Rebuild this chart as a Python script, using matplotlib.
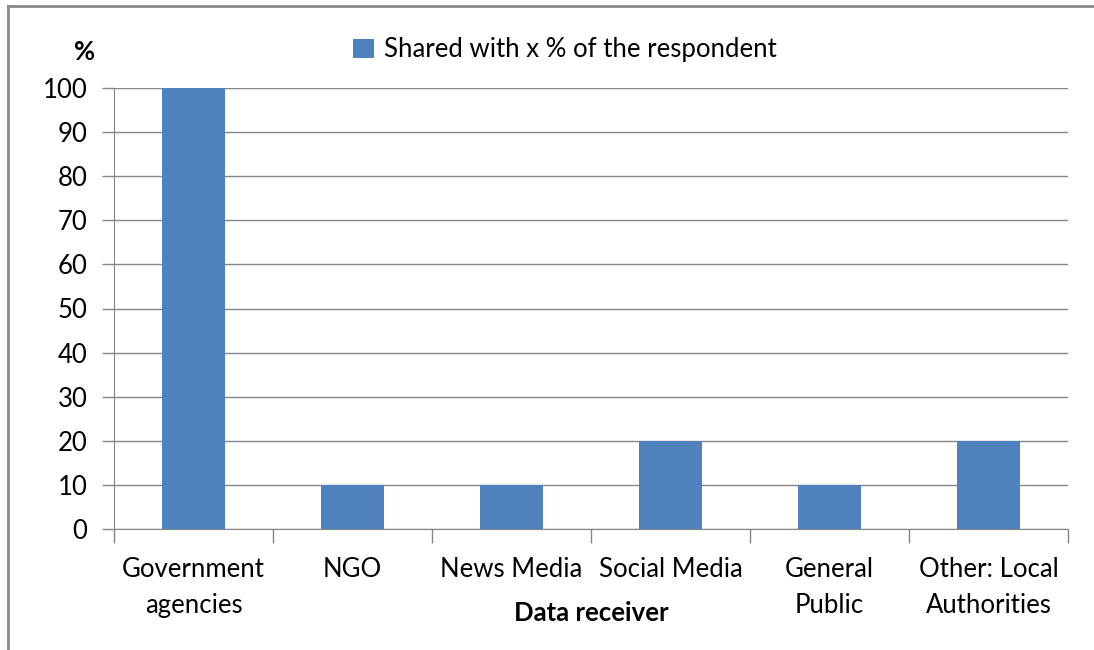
import matplotlib
matplotlib.use("Agg")
from matplotlib import pyplot as plt
from matplotlib.lines import Line2D
import numpy as np

categories = ["Government\nagencies", "NGO", "News Media", "Social Media",
              "General\nPublic", "Other: Local\nAuthorities"]
shared_pct = [100, 10, 10, 20, 10, 20]
y_ticks = [0, 10, 20, 30, 40, 50, 60, 70, 80, 90, 100]

plt.rcParams['font.family'] = ['Lato', 'DejaVu Sans']
fs = 18.5

fig = plt.figure(figsize=(10.94, 6.5), dpi=100)
W, H = 1094, 650

# chart frame: only the top and left edges fall inside the image
frame = '#898989'
fig.add_artist(Line2D([8 / W, 1.01], [1 - 6 / H, 1 - 6 / H],
                      transform=fig.transFigure, color=frame, linewidth=2))
fig.add_artist(Line2D([8 / W, 8 / W], [-0.01, 1 - 6 / H],
                      transform=fig.transFigure, color=frame, linewidth=2))

ax = fig.add_axes([114 / W, 121 / H, (1068 - 114) / W, (529 - 88) / H])
x = np.arange(len(categories))
ax.bar(x, shared_pct, width=0.4, color='#4F81BD', zorder=3,
       label='Shared with x % of the respondent')

ax.set_xlim(-0.5, len(categories) - 0.5)
ax.set_ylim(0, 100)
ax.set_yticks(y_ticks)
ax.yaxis.grid(True, color='#868686', linewidth=1)
ax.set_axisbelow(True)

ax.set_xticks(x)
ax.set_xticklabels(categories, fontsize=fs, linespacing=1.55)
ax.tick_params(axis='x', length=0, pad=20)
ax.set_xticks(np.arange(len(categories) + 1) - 0.5, minor=True)
ax.tick_params(axis='x', which='minor', length=10, color='#868686', width=1)
ax.tick_params(axis='y', length=9, color='#868686', width=1, labelsize=fs, pad=10)

for side in ['top', 'right']:
    ax.spines[side].set_visible(False)
for side in ['left', 'bottom']:
    ax.spines[side].set_color('#868686')

fig.text(591 / W, 1 - 613 / H, 'Data receiver', ha='center', va='center',
         fontsize=fs, fontweight='bold')
fig.text(85 / W, 1 - 52 / H, '%', ha='center', va='center',
         fontsize=fs, fontweight='bold')

ax.legend(loc='center', bbox_to_anchor=(565 / W, 1 - 50 / H),
          bbox_transform=fig.transFigure, frameon=False, fontsize=fs,
          handlelength=0.8, handleheight=0.8, handletextpad=0.4)

fig.savefig('out.png', dpi=100)
